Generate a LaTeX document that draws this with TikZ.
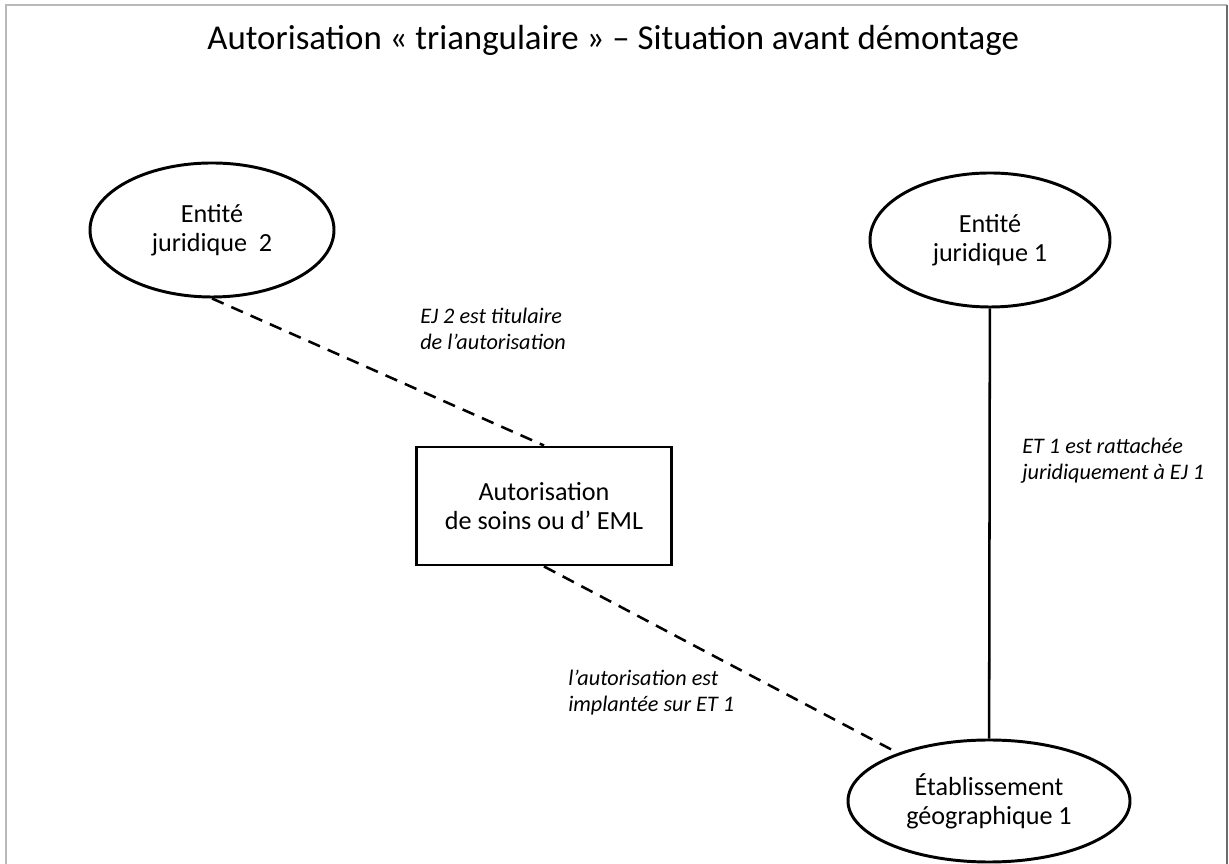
\documentclass[tikz,border=0pt]{standalone}
\usepackage{fontspec}
\setmainfont{Carlito}
\usetikzlibrary{shapes.geometric}

\tikzset{
  entity/.style={ellipse, draw, line width=2.1pt, inner sep=0pt, align=center,
    font=\fontsize{18.6}{20.5}\selectfont},
  authbox/.style={rectangle, draw, line width=2.1pt, inner sep=0pt, align=center,
    minimum width=6.375cm, minimum height=2.95cm, font=\fontsize{18.6}{20.5}\selectfont},
  linklabel/.style={anchor=north west, inner sep=0pt, align=left,
    font=\fontsize{15.8}{18.6}\selectfont\itshape},
  link/.style={line width=1.8pt},
  dashlink/.style={line width=1.8pt, dash pattern=on 9pt off 6pt}
}

\begin{document}
\begin{tikzpicture}

  \useasboundingbox (0,0) rectangle (30.725,21.6);

  % Slide frame (open at the bottom)
  \draw[gray!55, line width=1.2pt] (0.15,0) -- (0.15,21.475) -- (30.675,21.475);
  \draw[gray!85!black, line width=1.2pt] (30.675,21.475) -- (30.675,0);

  % Title
  \node (title) at (15.33, 20.6) {\fontsize{24.8}{29}\selectfont Autorisation «~triangulaire~» – Situation avant démontage};

  % Legal entities and establishment
  \node[entity, minimum width=6.1cm, minimum height=3.35cm] (ej2) at (5.3, 15.85) {Entité\\juridique~~2};
  \node[entity, minimum width=6.0cm, minimum height=3.35cm] (ej1) at (24.75, 15.6) {Entité\\juridique 1};
  \node[entity, minimum width=7.05cm, minimum height=3.05cm] (etab) at (24.725, 1.575) {Établissement\\géographique 1};

  % Authorisation
  \node[authbox] (autor) at (13.6, 8.95) {Autorisation\\de soins ou d’ EML};

  % Links
  \draw[dashlink] (ej2.south) -- (autor.north);
  \draw[dashlink] (autor.south) -- (etab);
  \draw[link] (ej1) -- (etab);

  % Link labels
  \node[linklabel] (lbltit) at (10.5, 13.9) {EJ 2 est titulaire\\de l’autorisation};
  \node[linklabel] (lblimp) at (14.2, 4.85) {l’autorisation est\\implantée sur ET 1};
  \node[linklabel] (lblrat) at (25.55, 10.65) {ET 1 est rattachée\\juridiquement à EJ 1};

\end{tikzpicture}
\end{document}
